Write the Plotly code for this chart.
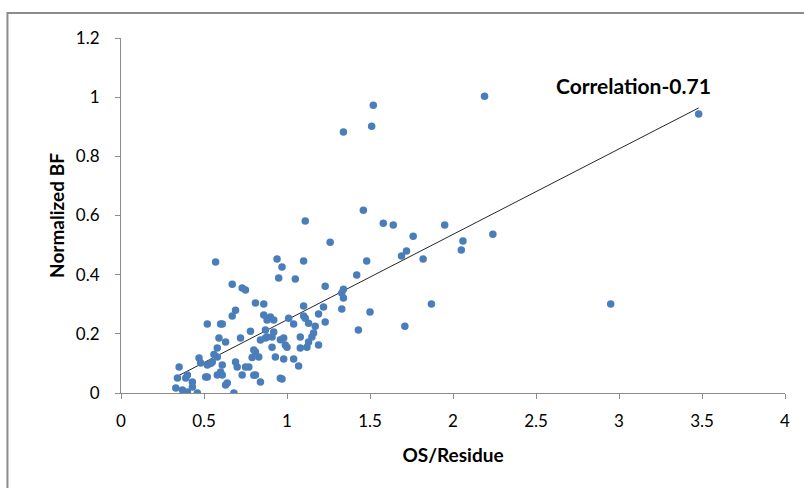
import numpy as np
import plotly.graph_objects as go

# OS/Residue (x) and Normalized BF (y)
os_residue = [
    2.19, 1.52, 1.34, 1.51, 3.48, 2.95, 1.11, 1.46, 1.58, 1.64,
    1.95, 1.76, 2.24, 2.06, 2.05, 1.72, 1.69, 1.82, 1.26, 1.10,
    1.48, 0.94, 0.97, 0.95, 1.05, 1.42, 1.23, 1.34, 1.33, 1.34,
    1.87, 1.33, 1.50, 1.10, 1.22, 1.19, 1.01, 1.10, 1.11, 1.13,
    1.04, 1.23, 1.17, 1.43, 1.71, 1.16, 1.15, 1.13, 1.12, 1.08,
    1.19, 1.08, 0.98, 0.99, 1.00, 0.98, 1.04, 1.07, 0.97, 0.57,
    0.67, 0.73, 0.75, 0.81, 0.86, 0.69, 0.67, 0.52, 0.60, 0.61,
    0.78, 0.72, 0.59, 0.63, 0.58, 0.47, 0.35, 0.48, 0.52, 0.55,
    0.58, 0.61, 0.69, 0.70, 0.75, 0.77, 0.60, 0.61, 0.58, 0.51,
    0.52, 0.40, 0.34, 0.73, 0.81, 0.84, 0.63, 0.64, 0.39, 0.43,
    0.43, 0.33, 0.37, 0.40, 0.46, 0.68, 0.87, 0.84, 0.87, 0.91,
    0.91, 0.80, 0.81, 0.83, 0.93, 0.86, 0.88, 0.90, 0.92, 0.92,
    0.88, 0.54, 0.56, 0.79, 0.80, 0.96, 0.96,
]
normalized_bf = [
    1.003, 0.973, 0.882, 0.902, 0.943, 0.301, 0.581, 0.618, 0.574, 0.568,
    0.568, 0.530, 0.537, 0.514, 0.483, 0.480, 0.463, 0.453, 0.510, 0.446,
    0.446, 0.453, 0.426, 0.389, 0.385, 0.399, 0.361, 0.351, 0.338, 0.321,
    0.301, 0.284, 0.274, 0.294, 0.291, 0.267, 0.253, 0.260, 0.253, 0.236,
    0.233, 0.240, 0.226, 0.213, 0.226, 0.203, 0.189, 0.172, 0.155, 0.152,
    0.162, 0.189, 0.186, 0.162, 0.155, 0.115, 0.115, 0.091, 0.047, 0.443,
    0.368, 0.355, 0.348, 0.304, 0.301, 0.280, 0.260, 0.233, 0.233, 0.233,
    0.209, 0.186, 0.186, 0.172, 0.152, 0.118, 0.088, 0.101, 0.095, 0.105,
    0.122, 0.095, 0.105, 0.088, 0.088, 0.088, 0.071, 0.061, 0.061, 0.054,
    0.054, 0.061, 0.051, 0.061, 0.061, 0.037, 0.027, 0.034, 0.051, 0.037,
    0.020, 0.017, 0.010, 0.003, 0.000, 0.000, 0.213, 0.179, 0.186, 0.189,
    0.155, 0.145, 0.139, 0.122, 0.122, 0.264, 0.247, 0.257, 0.247, 0.206,
    0.189, 0.100, 0.130, 0.120, 0.060, 0.050, 0.180,
]

x_ticks = [0, 0.5, 1, 1.5, 2, 2.5, 3, 3.5, 4]
x_tick_labels = ["0", "0.5", "1", "1.5", "2", "2.5", "3", "3.5", "4"]
y_ticks = [0, 0.2, 0.4, 0.6, 0.8, 1.0, 1.2]
y_tick_labels = ["0", "0.2", "0.4", "0.6", "0.8", "1", "1.2"]
annotation_text = "Correlation-0.71"

xs = np.array(os_residue)
ys = np.array(normalized_bf)
slope, intercept = np.polyfit(xs, ys, 1)
trend_x = np.array([xs.min(), xs.max()])
trend_y = slope * trend_x + intercept

FONT = "Lato"
AXIS_GRAY = "#8c8c8c"

fig = go.Figure()
fig.add_trace(go.Scatter(
    x=trend_x, y=trend_y, mode="lines",
    line=dict(color="#262626", width=1), hoverinfo="skip", showlegend=False,
))
fig.add_trace(go.Scatter(
    x=os_residue, y=normalized_bf, mode="markers",
    marker=dict(color="#4a7ebb", size=7.5, line=dict(width=0)),
    showlegend=False,
))

fig.add_annotation(
    x=0.7715, y=0.865, xref="paper", yref="paper",
    text="<b>" + annotation_text + "</b>", showarrow=False,
    font=dict(family=FONT, size=21, color="#000000"),
    xanchor="center", yanchor="middle",
)

# outer chart-area border (top and left edges visible)
fig.add_shape(
    type="rect", xref="paper", yref="paper",
    x0=-0.171, y0=-0.32, x1=1.06, y1=1.0704,
    line=dict(color=AXIS_GRAY, width=2), fillcolor="rgba(0,0,0,0)",
    layer="below",
)

fig.update_layout(
    width=804, height=488,
    margin=dict(l=121, r=19, t=38, b=95),
    paper_bgcolor="white", plot_bgcolor="white",
    font=dict(family=FONT, size=16, color="#000000"),
    xaxis=dict(
        range=[0, 4], tickvals=x_ticks, ticktext=x_tick_labels,
        showgrid=False, zeroline=False, showline=True,
        linecolor=AXIS_GRAY, linewidth=1,
        ticks="outside", ticklen=5, tickcolor=AXIS_GRAY,
        tickfont=dict(family=FONT, size=17),
        ticklabelstandoff=8,
        title=dict(text="<b>OS/Residue</b>", font=dict(family=FONT, size=19), standoff=18),
    ),
    yaxis=dict(
        range=[0, 1.2], tickvals=y_ticks, ticktext=y_tick_labels,
        showgrid=False, zeroline=False, showline=True,
        linecolor=AXIS_GRAY, linewidth=1,
        ticks="outside", ticklen=5, tickcolor=AXIS_GRAY,
        tickfont=dict(family=FONT, size=17),
        ticklabelstandoff=12,
        title=dict(text="<b>Normalized BF</b>", font=dict(family=FONT, size=19), standoff=6),
    ),
)

fig.write_html("out.html")
